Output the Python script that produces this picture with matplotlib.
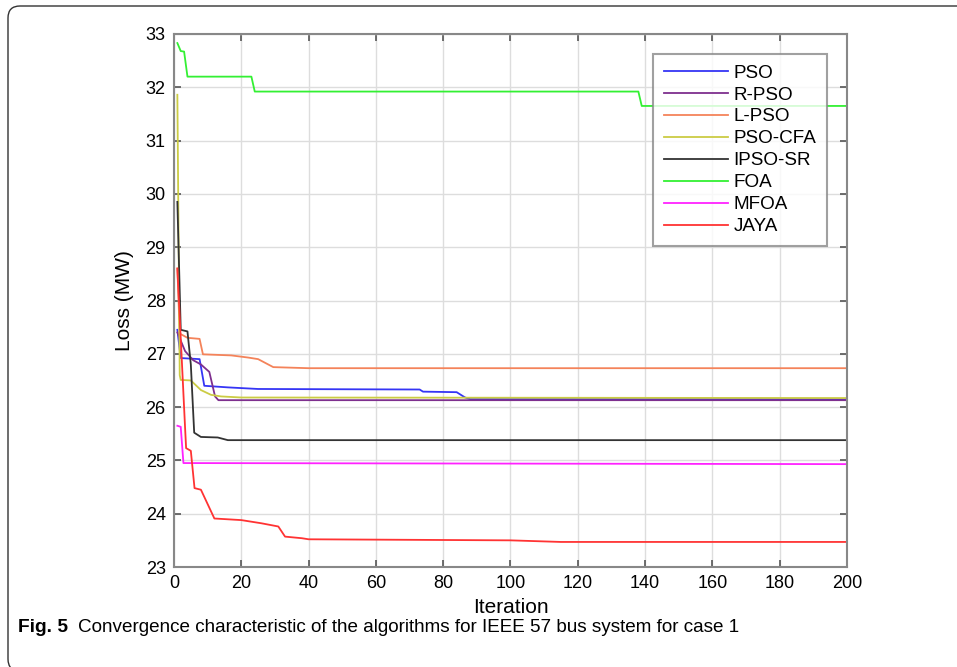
import matplotlib
matplotlib.use('Agg')
import matplotlib.pyplot as plt
from matplotlib.patches import FancyBboxPatch
from matplotlib.transforms import IdentityTransform

plt.rcParams['font.family'] = ['Liberation Sans', 'DejaVu Sans']

# breakpoints (iteration, loss in MW)
it_pso = [1, 2, 7.6, 9, 16, 25, 73, 74, 84, 86.5, 88, 200]
pso = [27.45, 26.92, 26.9, 26.4, 26.37, 26.34, 26.33, 26.29, 26.28, 26.18, 26.15, 26.15]

it_rpso = [1, 3.3, 5.7, 8, 10.5, 12.2, 13.2, 200]
rpso = [27.4, 27.05, 26.88, 26.8, 26.66, 26.2, 26.13, 26.13]

it_lpso = [1, 1.7, 4, 7.6, 8.6, 17, 22, 25, 29.5, 40, 200]
lpso = [28.6, 27.38, 27.3, 27.28, 26.99, 26.97, 26.93, 26.9, 26.75, 26.73, 26.73]

it_cfa = [1, 1.7, 2, 5, 8, 11, 14, 20, 200]
cfa = [31.86, 26.6, 26.51, 26.5, 26.32, 26.23, 26.2, 26.18, 26.17]

it_ipso = [1, 2, 4, 5, 6, 8, 13, 16, 200]
ipso = [29.85, 27.45, 27.42, 26.8, 25.52, 25.44, 25.43, 25.38, 25.38]

it_foa = [1, 2, 3, 4, 23, 24, 138, 139, 200]
foa = [32.83, 32.68, 32.67, 32.2, 32.2, 31.92, 31.92, 31.65, 31.65]

it_mfoa = [1, 2, 2.8, 200]
mfoa = [25.65, 25.63, 24.95, 24.93]

it_jaya = [1, 3.3, 3.6, 5, 6.1, 8, 12, 20, 26, 31, 33, 38, 40, 100, 115, 200]
jaya = [28.6, 25.6, 25.23, 25.18, 24.48, 24.45, 23.91, 23.88, 23.82, 23.76, 23.57,
        23.54, 23.52, 23.5, 23.47, 23.47]

names = ['PSO', 'R-PSO', 'L-PSO', 'PSO-CFA', 'IPSO-SR', 'FOA', 'MFOA', 'JAYA']
colors = ['#3535f5', '#7e2f8e', '#f4835a', '#cccc44', '#333333', '#33f033', '#ff22ff', '#ff3333']
xs = [it_pso, it_rpso, it_lpso, it_cfa, it_ipso, it_foa, it_mfoa, it_jaya]
ys = [pso, rpso, lpso, cfa, ipso, foa, mfoa, jaya]

fig = plt.figure(figsize=(9.57, 6.67), dpi=100)

# rounded frame around figure + caption (open on the right and bottom)
frame = FancyBboxPatch((8, -4), 1100, 665, boxstyle='round,pad=0,rounding_size=12',
                       transform=IdentityTransform(), fill=False, ec='#333333', lw=1.0)
fig.patches.append(frame)

ax = fig.add_axes([174 / 957, 1 - 567 / 667, 673 / 957, 533 / 667])
for x, y, c, n in zip(xs, ys, colors, names):
    ax.plot(x, y, color=c, lw=1.3, label=n)

ax.set_xlim(0, 200)
ax.set_ylim(23, 33)
ax.set_xticks(range(0, 201, 20))
ax.set_yticks(range(23, 34))
ax.grid(True, color='#dddddd', lw=1.0)
ax.set_axisbelow(True)
for s in ax.spines.values():
    s.set_color('#888888')
    s.set_linewidth(1.5)
ax.tick_params(direction='in', length=5, width=1.2, color='#555555',
               top=True, right=True, labelsize=13, pad=6)
ax.set_xlabel('Iteration', fontsize=15, labelpad=4)
ax.set_ylabel('Loss (MW)', fontsize=15, labelpad=8)

leg = ax.legend(loc='upper right', bbox_to_anchor=(0.970, 0.9625), borderaxespad=0,
                fontsize=13.6, frameon=True, fancybox=False, edgecolor='#888888',
                handlelength=3.4, labelspacing=0.25, borderpad=0.55, handletextpad=0.3)
leg.get_frame().set_linewidth(1.5)

cap_font = ['Liberation Sans Narrow', 'Liberation Sans']
fig.text(18 / 957, 1 - 628 / 667, 'Fig. 5', fontsize=13.8, fontweight='bold',
         va='center', family=cap_font)
fig.text(78 / 957, 1 - 628 / 667,
         'Convergence characteristic of the algorithms for IEEE 57 bus system for case 1',
         fontsize=13.6, va='center', family=cap_font)

fig.savefig('out.png', dpi=100)
